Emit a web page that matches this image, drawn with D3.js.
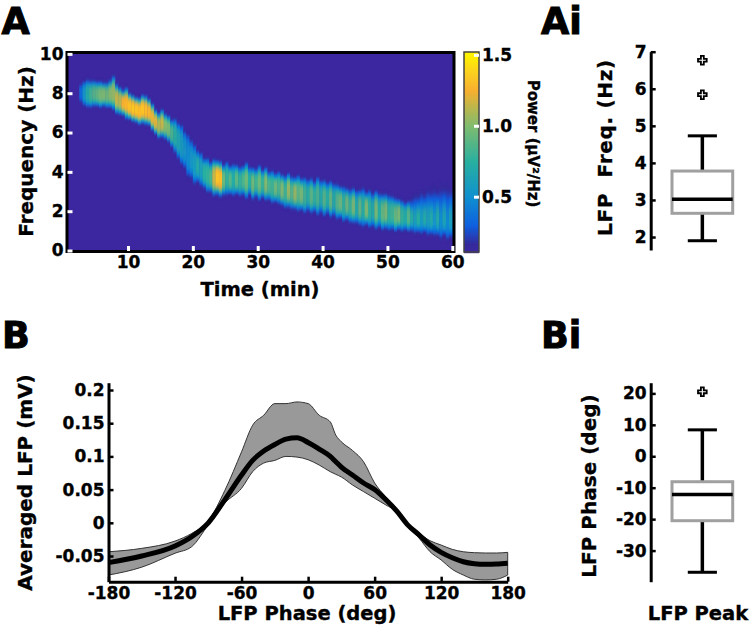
<!DOCTYPE html>
<html><head><meta charset="utf-8">
<script src="https://cdn.jsdelivr.net/npm/d3@7/dist/d3.min.js"></script>
<style>
html,body{margin:0;padding:0;background:#fff}
svg{display:block}
text{font-family:"DejaVu Sans",sans-serif;font-weight:700;fill:#000;white-space:pre;stroke:#000;stroke-width:.35px}
</style></head><body>
<svg id="c" width="750" height="628"></svg>
<script>
// ---------- Panel A: spectrogram ridge, one column per half minute from 2.5 to 60 min
const bandStart = 2.5, bandStep = 0.5;
const bandHigh = [8.45,8.55,8.6,8.55,8.55,8.5,8.5,8.45,8.45,8.55,
8.75,8.35,8.2,8.05,8.15,7.9,7.8,7.7,7.65,7.8,
7.75,7.6,7.35,7.05,6.9,7.05,6.85,6.75,6.55,6.6,
6.4,6.3,6.0,5.85,5.55,5.3,5.0,4.9,4.6,4.6,
4.4,4.5,4.45,4.4,4.25,4.4,4.2,4.3,4.25,4.15,
4.2,4.35,4.15,4.1,4.05,4.2,4.0,4.1,3.9,3.95,
3.8,3.9,3.75,3.7,3.8,3.65,3.6,3.7,3.55,3.6,
3.5,3.55,3.4,3.6,3.45,3.45,3.35,3.4,3.3,3.25,
3.15,3.15,3.05,3.0,3.05,2.95,2.95,3.05,2.85,2.95,
2.8,2.9,2.8,2.75,2.75,2.7,2.65,2.55,2.5,2.45,
2.35,2.4,2.6,2.8,2.75,3.0,2.85,3.1,3.0,3.2,
3.0,3.3,3.15,3.3,3.1,3.3];
const bandLow = [7.5,7.35,7.3,7.3,7.35,7.35,7.3,7.35,7.3,7.3,
7.2,7.0,6.95,6.9,6.75,6.7,6.6,6.55,6.45,6.5,
6.45,6.4,6.15,5.95,5.75,5.8,5.7,5.55,5.3,5.0,
4.7,4.4,4.2,3.75,3.7,3.4,3.5,3.3,3.2,3.0,
3.0,2.85,2.9,2.8,2.85,2.85,2.9,2.8,2.9,2.8,
2.85,2.7,2.85,2.65,2.75,2.6,2.7,2.6,2.6,2.45,
2.5,2.4,2.35,2.2,2.25,2.15,2.15,2.05,2.1,1.95,
2.05,1.95,2.0,1.85,1.95,1.8,1.9,1.75,1.8,1.65,
1.7,1.5,1.6,1.45,1.45,1.4,1.35,1.25,1.35,1.2,
1.25,1.15,1.2,1.1,1.15,1.05,1.1,1.0,1.1,1.0,
1.05,1.0,1.0,.9,.95,.85,.95,.8,.85,.75,
.8,.6,.8,.55,.7,.6];
const bandPower = [.35,.55,.72,.82,.88,.92,.98,1.0,.95,1.02,
1.05,1.15,1.12,1.25,1.28,1.32,1.35,1.33,1.3,1.33,
1.3,1.27,1.22,1.2,1.1,1.15,1.0,.98,.85,.75,
.68,.6,.55,.5,.55,.6,.7,.62,.75,.78,
.85,1.15,1.33,1.3,.95,.78,.88,.72,.9,.78,
.85,.95,.75,.95,.82,.95,.8,1.0,.85,.82,
.95,.85,1.0,.82,1.05,.88,1.05,.9,.98,.82,
.75,.9,.78,.85,.72,.88,.75,.92,.72,.88,
.95,.78,.95,.8,.98,.72,.92,.75,1.0,.78,
.72,.98,.75,.92,.98,.78,.82,.92,.98,.78,
.72,.88,.72,.62,.75,.6,.72,.62,.7,.55,
.7,.5,.66,.48,.62,.5];
// ridge of the late, lopsided part of the band (53.5 to 60 min)
const lateRidgeStart = 53.5;
const lateRidge = [1.75,1.7,1.7,1.75,1.7,1.75,1.7,1.7,1.75,1.65,1.7,1.6,1.65,1.6];

const powerStops  = [0.1,0.17,0.3,0.5,0.75,1.0,1.15,1.25,1.38,1.5];
const powerColors = ["#3c27a0","#352a9c","#0f60e0","#1090d0","#28b0a0","#80bc70","#c4b648","#f8b030","#fbd020","#fff200"];
const freqTicks = [0,2,4,6,8,10];
const timeTicks = [10,20,30,40,50,60];
const cbarTicks = [0.5,1.0,1.5];

// ---------- Panel B: averaged LFP
const phase = [-180,-150,-120,-105,-90,-75,-60,-50,-40,-30,-20,-10,0,10,20,25,30,40,50,60,70,80,90,100,110,120,130,140,150,160,170,180];
const lfpMean  = [-.060,-.050,-.035,-.021,0,.035,.072,.094,.108,.118,.126,.128,.121,.111,.100,.092,.084,.072,.060,.050,.035,.0175,-.0035,-.018,-.0335,-.0445,-.0526,-.0586,-.0616,-.0626,-.0622,-.061];
const lfpUpper = [-.0436,-.0385,-.0275,-.016,.003,.049,.107,.147,.162,.1795,.1795,.182,.1795,.162,.152,.132,.122,.109,.092,.060,.039,.019,-.0015,-.016,-.027,-.0335,-.040,-.0436,-.045,-.0455,-.0455,-.0445];
const lfpLower = [-.0787,-.0668,-.0458,-.036,-.003,.030,.052,.077,.090,.094,.100,.099,.095,.087,.077,.073,.069,.057,.047,.037,.027,.0165,-.0055,-.023,-.0436,-.056,-.070,-.0787,-.085,-.086,-.085,-.0787];
const phaseTicks = [-180,-120,-60,0,60,120,180];
const lfpTicks = [-0.05,0,0.05,0.1,0.15,0.2];
const lfpTickLabels = ["-0.05","0","0.05","0.1","0.15","0.2"];

// ---------- Box plots
const freqBox = {q1:2.64, med:3.02, q3:3.78, lo:1.9, hi:4.73};
const freqOutliers = [5.84,6.77];
const freqBoxTicks = [2,3,4,5,6,7];
const phaseBox = {q1:-20.5, med:-12.2, q3:-8.1, lo:-36.9, hi:8.4};
const phaseOutliers = [20.5];
const phaseBoxTicks = [-30,-20,-10,0,10,20];

const svg = d3.select("#c");
const FS = 17;
const plain = d=>String(d);

function label(t,x,y,size,rot){
  const s = svg.append("text").text(t).attr("font-size",size).attr("text-anchor","middle");
  if(rot!==undefined) s.attr("transform",`translate(${x},${y}) rotate(${rot})`);
  else s.attr("x",x).attr("y",y);
  return s;
}
function panel(t,x,y){ svg.append("text").text(t).attr("x",x).attr("y",y).attr("font-size",36.5).style("stroke-width","1px"); }

// ===== A =====
const xA = d3.scaleLinear().domain([0.6,60.26]).range([67,454]);
const yA = d3.scaleLinear().domain([-0.05,10.07]).range([251.5,52.5]);
const color = d3.scaleLinear().domain(powerStops).range(powerColors).clamp(true);
const bg = powerColors[0];
const defs = svg.append("defs");
defs.append("clipPath").attr("id","clipA").append("rect")
  .attr("x",xA.range()[0]).attr("y",yA.range()[1]).attr("width",xA.range()[1]-xA.range()[0]).attr("height",yA.range()[0]-yA.range()[1]);
defs.append("filter").attr("id","soft").attr("x","-5%").attr("y","-5%").attr("width","110%").attr("height","110%")
  .append("feGaussianBlur").attr("stdDeviation","0.6 0.9");

svg.append("rect").attr("x",xA.range()[0]).attr("y",yA.range()[1]).attr("width",xA.range()[1]-xA.range()[0]).attr("height",yA.range()[0]-yA.range()[1]).attr("fill",bg);
const freqBins = d3.range(0.2,9.3,0.1);
const cells = [];
bandPower.forEach((p,i)=>{
  const t = bandStart + i*bandStep;
  const hi = bandHigh[i], lo = bandLow[i];
  const late = t>=lateRidgeStart ? lateRidge[Math.round((t-lateRidgeStart)/bandStep)] : null;
  const c = late===null ? (hi+lo)/2 : late;
  freqBins.forEach(f=>{
    if(f>hi+0.3||f<lo-0.3) return;
    const r = f>=c ? (f-c)/(hi-c) : (c-f)/(c-lo);
    const k = late!==null && f>c ? 1.5 : 1.1;
    const exp = late!==null && f>c ? 2 : 4;
    const v = 0.1 + (p-0.1)*Math.exp(-Math.pow(r*k,exp));
    if(v>0.13) cells.push({t,f,v});
  });
});
svg.append("g").attr("clip-path","url(#clipA)").append("g").attr("filter","url(#soft)")
  .selectAll("rect").data(cells).join("rect")
  .attr("x",d=>xA(d.t)).attr("width",xA(bandStep)-xA(0)+0.3)
  .attr("y",d=>yA(d.f+0.1)).attr("height",yA(0)-yA(0.1)+0.3)
  .attr("fill",d=>color(d.v));

svg.append("rect").attr("x",xA.range()[0]).attr("y",yA.range()[1]).attr("width",xA.range()[1]-xA.range()[0]).attr("height",yA.range()[0]-yA.range()[1])
  .attr("fill","none").attr("stroke","#000").attr("stroke-width",3);

function styleTicks(g){
  g.selectAll(".tick text").attr("font-size",FS).attr("font-family",'"DejaVu Sans"').attr("font-weight",700).attr("fill","#000");
}
function whiteAxis(g,gen){
  g.call(gen);
  g.select(".domain").remove();
  g.selectAll(".tick line").attr("stroke","#fff").attr("stroke-width",3);
  styleTicks(g);
}
whiteAxis(svg.append("g").attr("transform",`translate(${xA.range()[0]+0.5},0)`),
  d3.axisLeft(yA).tickValues(freqTicks).tickSize(-5).tickPadding(4).tickFormat(plain));
whiteAxis(svg.append("g").attr("transform",`translate(0,${yA.range()[0]-0.5})`),
  d3.axisBottom(xA).tickValues(timeTicks).tickSize(-5).tickPadding(5).tickFormat(plain));
label("Frequency (Hz)",33,151.5,20,-90);
label("Time (min)",260,296,19.5);
label("Power (µV²/Hz)",528,143.5,15,90);

// colour bar
const yC = d3.scaleLinear().domain([0.11,1.52]).range([252,52]);
svg.append("g").selectAll("rect").data(d3.range(0.11,1.52,0.0072)).join("rect")
  .attr("x",464).attr("width",15).attr("y",d=>yC(d)-1).attr("height",2.2).attr("fill",d=>color(d));
svg.append("rect").attr("x",464).attr("y",52).attr("width",15).attr("height",200).attr("fill","none").attr("stroke","#444").attr("stroke-width",1.5);
const gC = svg.append("g").attr("transform","translate(479,0)");
whiteAxis(gC,d3.axisRight(yC).tickValues(cbarTicks).tickSize(-5).tickPadding(3).tickFormat(d3.format(".1f")));

// ===== B =====
const xB = d3.scaleLinear().domain([-180,180]).range([108.5,507.7]);
const yB = d3.scaleLinear().domain([-0.0887,0.211]).range([581.7,382.7]);
const rows = phase.map((p,i)=>({p,m:lfpMean[i],u:lfpUpper[i],l:lfpLower[i]}));
svg.append("path").datum(rows).attr("fill","#999").attr("stroke","#333").attr("stroke-width",1)
  .attr("d",d3.area().x(d=>xB(d.p)).y0(d=>yB(d.l)).y1(d=>yB(d.u)).curve(d3.curveMonotoneX));
svg.append("path").datum(rows).attr("fill","none").attr("stroke","#000").attr("stroke-width",5)
  .attr("d",d3.line().x(d=>xB(d.p)).y(d=>yB(d.m)).curve(d3.curveMonotoneX));
function blackAxis(g,gen,w){
  g.call(gen);
  g.select(".domain").attr("stroke","#000").attr("stroke-width",w||3);
  g.selectAll(".tick line").attr("stroke","#000").attr("stroke-width",2.5);
  styleTicks(g);
}
blackAxis(svg.append("g").attr("transform",`translate(${xB.range()[0]},0)`),
  d3.axisLeft(yB).tickValues(lfpTicks).tickSizeInner(-5).tickSizeOuter(0).tickPadding(4).tickFormat((d,i)=>lfpTickLabels[i]));
blackAxis(svg.append("g").attr("transform",`translate(0,${yB.range()[0]})`),
  d3.axisBottom(xB).tickValues(phaseTicks).tickSizeInner(-5).tickSizeOuter(0).tickPadding(5).tickFormat(plain));
label("Averaged LFP (mV)",32,482.5,20,-90);
label("LFP Phase (deg)",307,620,19.5);

// ===== Box plots =====
const xBox = d3.scaleLinear().domain([0,1]).range([672,732.7]);
function box(y,b,outs,ticks){
  blackAxis(svg.append("g").attr("transform","translate(650.7,0)"),
    d3.axisLeft(y).tickValues(ticks).tickSizeInner(-5).tickSizeOuter(0).tickPadding(4).tickFormat(plain));
  const g = svg.append("g");
  const cx = xBox(0.5);
  const cap = v=>g.append("line").attr("x1",xBox(0.26)).attr("x2",xBox(0.74)).attr("y1",y(v)).attr("y2",y(v)).attr("stroke","#000").attr("stroke-width",3);
  g.append("line").attr("x1",cx).attr("x2",cx).attr("y1",y(b.hi)).attr("y2",y(b.q3)).attr("stroke","#000").attr("stroke-width",3.5);
  g.append("line").attr("x1",cx).attr("x2",cx).attr("y1",y(b.lo)).attr("y2",y(b.q1)).attr("stroke","#000").attr("stroke-width",3.5);
  cap(b.hi); cap(b.lo);
  g.append("rect").attr("x",xBox(0)).attr("width",xBox(1)-xBox(0)).attr("y",y(b.q3)).attr("height",y(b.q1)-y(b.q3))
    .attr("fill","#fff").attr("stroke","#a0a0a0").attr("stroke-width",3);
  g.append("line").attr("x1",xBox(0)).attr("x2",xBox(1)).attr("y1",y(b.med)).attr("y2",y(b.med)).attr("stroke","#000").attr("stroke-width",3.5);
  g.selectAll("path.o").data(outs).join("path").attr("class","o")
    .attr("transform",d=>`translate(${cx},${y(d)})`)
    .attr("d",d3.symbol(d3.symbolCross,42)).attr("fill","#fff").attr("stroke","#000").attr("stroke-width",1.8);
}
const yAi = d3.scaleLinear().domain([1.65,7]).range([250,51.7]);
box(yAi,freqBox,freqOutliers,freqBoxTicks);
label("LFP  Freq. (Hz)",612,147.5,20,-90).style("letter-spacing","0.7px");
const yBi = d3.scaleLinear().domain([-39.9,23.4]).range([581.7,382.7]);
box(yBi,phaseBox,phaseOutliers,phaseBoxTicks);
label("LFP Phase (deg)",596,486,20,-90);
label("LFP Peak",698,620,19.5);

panel("A",1.5,34); panel("Ai",541,34); panel("B",2,348); panel("Bi",541,348);
</script>
</body></html>
